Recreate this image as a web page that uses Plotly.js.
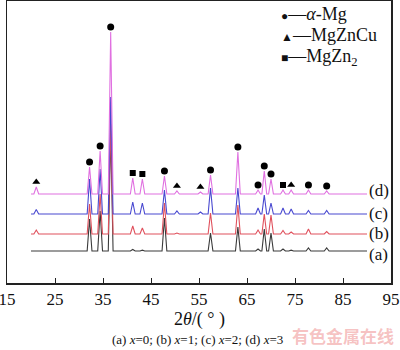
<!DOCTYPE html>
<html><head><meta charset="utf-8">
<script src="https://cdn.plot.ly/plotly-3.0.1.min.js"></script>
<style>html,body{margin:0;padding:0;background:#fff}#chart{width:400px;height:350px}</style>
</head><body><div id="chart"></div>
<script>
// ---- data (2θ in degrees, peak heights in relative intensity) ----
const peakPositions = [21.1, 32.2, 34.4, 36.6, 41.2, 43.2, 47.8, 50.4, 55.3, 57.4, 63.1, 67.3, 68.6, 70.0, 72.5, 74.2, 77.8, 81.6];
const heightsA = [0,   32, 40, 120, 1.5, 0.8, 33, 0, 0,   18, 24, 2, 22, 18, 2,   0.8, 3,   3];
const heightsB = [4,   30, 40, 110, 8,   6,   31, 1, 0.5, 21, 29, 4, 20, 19, 3.5, 2,   5,   2.5];
const heightsC = [4.5, 35, 45, 117, 12,  11,  24, 3, 2,   26, 26, 6, 19, 11, 6,   5,   3.5, 3.5];
const heightsD = [7,   27, 43, 162, 16,  15,  18, 3, 2,   19, 42, 4, 23, 15, 4,   4,   4,   3];
const sampleLabels = ['(a)', '(b)', '(c)', '(d)'];
const scanRange = [20, 90];
const alphaMgPeaks = [32.2, 34.4, 36.6, 47.8, 57.4, 63.1, 67.3, 68.6, 70.0, 77.8, 81.6];
const mgZnCuPeaks = [21.1, 50.4, 55.3, 74.2];
const mgZn2Peaks = [41.2, 43.2, 72.5];
const phaseNames = ['<i>α</i>-Mg', 'MgZnCu', 'MgZn<sub>2</sub>'];
const xTickVals = [15, 25, 35, 45, 55, 65, 75, 85, 95];
const xTitle = '2<i>θ</i>/( ° )';
const captionText = '(a) <i>x</i>=0; (b) <i>x</i>=1; (c) <i>x</i>=2; (d) <i>x</i>=3';
const watermarkText = '有色金属在线';

// ---- styling ----
const offsets = [32, 49, 69, 89];
const labelY = [29, 50, 70, 93];
const colors = ['#3a3a3a', '#e0505c', '#4848d0', '#e070e0'];
const halfWidth = 0.5;
const serif = 'Liberation Serif, Times New Roman, serif';

function profile(heights, offset) {
  const xs = [scanRange[0]], ys = [offset];
  peakPositions.forEach((p, i) => {
    xs.push(p - halfWidth, p, p + halfWidth);
    ys.push(offset, offset + heights[i], offset);
  });
  xs.push(scanRange[1]); ys.push(offset);
  return {x: xs, y: ys};
}

const allHeights = [heightsA, heightsB, heightsC, heightsD];
const traces = allHeights.map((h, i) => {
  const pr = profile(h, offsets[i]);
  return {x: pr.x, y: pr.y, type: 'scatter', mode: 'lines',
    line: {color: colors[i], width: 1.1}, showlegend: false, hoverinfo: 'skip'};
});

function markerY(list, gap) {
  return list.map(p => offsets[3] + heightsD[peakPositions.indexOf(p)] + gap);
}
const markerSets = [
  {x: alphaMgPeaks, sym: 'circle', size: 7, gap: 5},
  {x: mgZnCuPeaks, sym: 'triangle-up', size: 7, gap: 5},
  {x: mgZn2Peaks, sym: 'square', size: 6, gap: 5}
];
markerSets.forEach(m => {
  traces.push({x: m.x, y: markerY(m.x, m.gap), type: 'scatter', mode: 'markers',
    marker: {symbol: m.sym, size: m.size, color: '#000'}, showlegend: false, hoverinfo: 'skip'});
});

const annotations = [];
sampleLabels.forEach((t, i) => {
  annotations.push({x: scanRange[1] + 0.1, y: labelY[i], xref: 'x', yref: 'y', text: t,
    showarrow: false, xanchor: 'left', yanchor: 'middle', font: {family: serif, size: 17, color: '#111'}});
});
const legendGlyphs = ['●', '▲', '■'];
const legendY = [0.954, 0.879, 0.801];
phaseNames.forEach((n, i) => {
  annotations.push({x: 0.708, y: legendY[i], xref: 'paper', yref: 'paper', xanchor: 'left', yanchor: 'middle',
    showarrow: false, text: '<span style="font-size:12px">' + legendGlyphs[i] + '</span>—' + n,
    font: {family: serif, size: 18, color: '#111'}});
});
annotations.push({x: 0.5, y: -0.128, xref: 'paper', yref: 'paper', showarrow: false, text: xTitle,
  xanchor: 'center', yanchor: 'middle', font: {family: serif, size: 18, color: '#111'}});
annotations.push({x: 0.495, y: -0.199, xref: 'paper', yref: 'paper', showarrow: false, text: captionText,
  xanchor: 'center', yanchor: 'middle', font: {family: serif, size: 13, color: '#111'}});
annotations.push({x: 0.875, y: -0.186, xref: 'paper', yref: 'paper', showarrow: false, text: '<b>' + watermarkText + '</b>',
  xanchor: 'center', yanchor: 'middle', font: {family: 'Noto Sans CJK SC', size: 17, color: 'rgba(235,120,120,0.45)'}});

const layout = {
  width: 400, height: 350,
  margin: {l: 7, r: 9, t: 1, b: 67},
  paper_bgcolor: '#fff', plot_bgcolor: '#fff',
  showlegend: false,
  xaxis: {range: [15, 95], tickvals: xTickVals, ticks: 'inside', ticklen: 5, tickwidth: 1, tickcolor: '#222',
    showline: true, linecolor: '#222', linewidth: 1.5, mirror: true, showgrid: false, zeroline: false,
    ticklabeloverflow: 'allow', tickfont: {family: serif, size: 17, color: '#111'}, fixedrange: true},
  yaxis: {range: [0, 282], showline: true, linecolor: '#222', linewidth: 1.5, mirror: true,
    showticklabels: false, ticks: '', showgrid: false, zeroline: false, fixedrange: true},
  annotations: annotations
};
Plotly.newPlot('chart', traces, layout, {displayModeBar: false, staticPlot: true});
</script></body></html>
